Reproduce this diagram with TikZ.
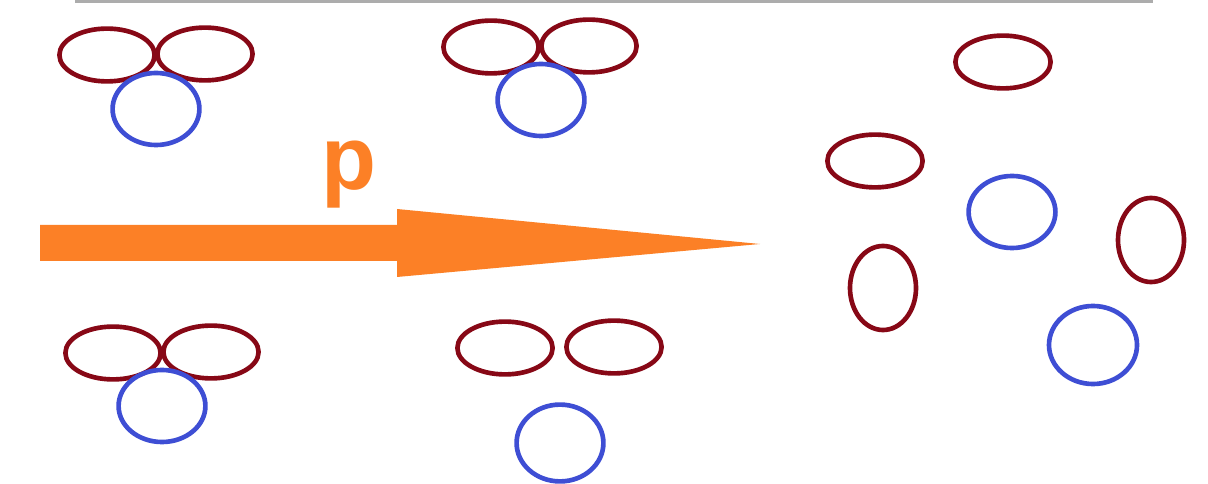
\documentclass[tikz,border=0pt]{standalone}
\usepackage{fontspec}
\setmainfont{Liberation Sans}
\usetikzlibrary{shapes.geometric,calc}
\definecolor{chred}{RGB}{135,8,22}
\definecolor{chblue}{RGB}{62,78,212}
\definecolor{chbeam}{RGB}{252,128,38}
\definecolor{chrule}{RGB}{172,172,172}

\begin{document}
\begin{tikzpicture}[x=0.025cm,y=-0.025cm,
  rod/.style={draw=chred,ellipse,line width=3.3pt,inner sep=0pt,
              minimum width=2.38cm,minimum height=1.32cm},
  stand/.style={draw=chred,ellipse,line width=3.3pt,inner sep=0pt,
                minimum width=1.65cm,minimum height=2.1cm},
  ring/.style={draw=chblue,ellipse,line width=3.3pt,inner sep=0pt,
               minimum width=2.17cm,minimum height=1.8cm}]
  \useasboundingbox[fill=white] (0,0) rectangle (1208,484);
  \draw[chrule,line width=2.2pt] (75,1.6) -- (1153,1.6);
  % bound groups, left side
  \node[rod]  (ul1) at (107,55)  {};
  \node[rod]  (ul2) at (205,54)  {};
  \node[ring] (ulb) at (156,109) {};
  \node[rod]  (um1) at (491,47)  {};
  \node[rod]  (um2) at (589,46)  {};
  \node[ring] (umb) at (541,100) {};
  \node[rod]  (ll1) at (113,353) {};
  \node[rod]  (ll2) at (211,352) {};
  \node[ring] (llb) at (162,406) {};
  \node[rod]  (lm1) at (505,348) {};
  \node[rod]  (lm2) at (614,347) {};
  \node[ring,minimum height=1.92cm] (lmb) at (560,443) {};
  % free pieces, right side
  \node[rod]   (r1) at (1003,62)  {};
  \node[rod]   (r2) at (875,161)  {};
  \node[ring]  (rb1) at (1012,212) {};
  \node[stand] (r3) at (1151,240) {};
  \node[stand] (r4) at (883,288)  {};
  \node[ring,minimum width=2.2cm,minimum height=1.95cm] (rb2) at (1093,345) {};
  % momentum arrow
  \coordinate (tail) at (40,243);
  \coordinate (tip)  at (760,244);
  \fill[chbeam] ($(tail)+(0,-18)$) -- (397,225) -- (397,209) -- (tip)
    -- (397,277) -- (397,261) -- ($(tail)+(0,18)$) -- cycle;
  \node[anchor=base,inner sep=0pt,text=chbeam,font=\bfseries\fontsize{64}{64}\selectfont]
    (plab) at (349,190) {p};
\end{tikzpicture}
\end{document}
